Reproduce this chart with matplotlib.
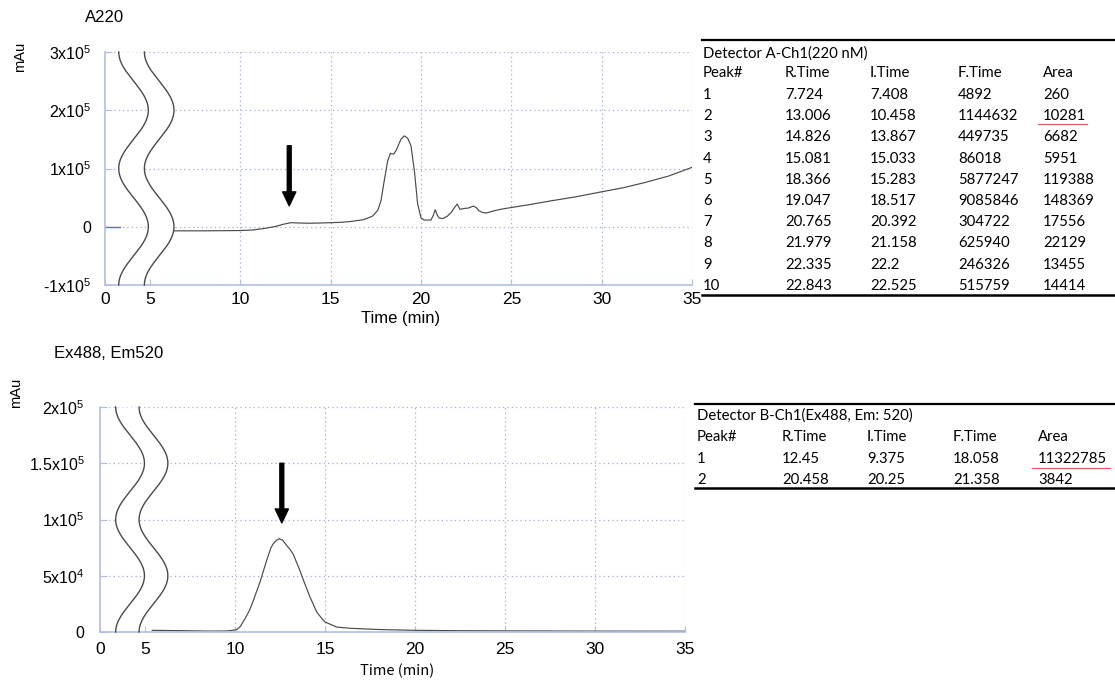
import matplotlib
matplotlib.use('Agg')
import matplotlib.pyplot as plt
import numpy as np
from matplotlib.lines import Line2D

plt.rcParams['font.family'] = ['Liberation Sans', 'DejaVu Sans']
plt.rcParams['mathtext.default'] = 'regular'

W, H = 1115, 682

# ---------------- data ----------------
a220_pre_time = [2.5, 3.35]
a220_pre_mau = [0, 0]
a220_time = [6.3, 8.0, 10.0, 10.65, 11.3, 11.95, 12.4, 12.8, 13.2, 13.8,
             14.5, 15.5, 16.1, 16.8, 17.3, 17.6, 17.78, 17.96, 18.15, 18.3,
             18.48, 18.61, 18.89, 19.07, 19.26, 19.44, 19.63, 19.81, 20.0, 20.18,
             20.55, 20.68, 20.78, 20.9, 21.0, 21.2, 21.45, 21.67, 21.85, 22.0,
             22.15, 22.25, 22.4, 22.6, 22.9, 23.05, 23.2, 23.4, 23.6, 24.05,
             24.5, 25.0, 26.0, 27.2, 28.5, 30.0, 31.2, 32.4, 33.7, 35.0]
a220_mau = [-7000, -7000, -6500, -5700, -3000, 500, 4500, 7000, 6500, 6000,
            6500, 7500, 9000, 12000, 18000, 28000, 44600, 79000, 113000, 126000,
            124800, 130500, 150500, 156000, 152000, 139000, 96000, 39000, 15000, 11500,
            11500, 20000, 29000, 20000, 15000, 14000, 18000, 24500, 33000, 39000,
            30000, 30500, 31500, 32000, 35500, 33000, 27500, 24500, 23500, 27500,
            30500, 33000, 38000, 44500, 51000, 60000, 67000, 76000, 87000, 102000]

fl_time = [5.4, 7.0, 8.5, 9.6, 10.1, 10.3, 10.56, 10.8, 11.02, 11.4,
           11.76, 12.0, 12.13, 12.3, 12.46, 12.65, 12.87, 13.05, 13.24, 13.6,
           13.9, 14.17, 14.54, 14.8, 15.0, 15.65, 16.4, 18.0, 20.0, 22.0,
           25.0, 30.0, 35.0]
fl_mau = [1500, 1200, 800, 900, 2100, 5000, 11900, 19000, 28000, 45000,
          63700, 75000, 78500, 81500, 82900, 81500, 77000, 73500, 69000, 54800,
          42000, 31000, 17800, 12500, 8900, 4400, 3300, 2200, 1500, 1200,
          1000, 800, 700]

x_tick_pos = [2.5, 5, 10, 15, 20, 25, 30, 35]
x_tick_labels = ['0', '5', '10', '15', '20', '25', '30', '35']
a220_yticks = [-1e5, 0, 1e5, 2e5, 3e5]
a220_yticklabels = ['-1x10$^5$', '0', '1x10$^5$', '2x10$^5$', '3x10$^5$']
fl_yticks = [0, 5e4, 1e5, 1.5e5, 2e5]
fl_yticklabels = ['0', '5x10$^4$', '1x10$^5$', '1.5x10$^5$', '2x10$^5$']

arrow_a220 = (12.7, 1.39e5, 0.36e5)   # x, tail y, tip y
arrow_fl = (12.6, 1.5e5, 0.97e5)

table_a_title = 'Detector A-Ch1(220 nM)'
table_cols = ['Peak#', 'R.Time', 'I.Time', 'F.Time', 'Area']
table_a_peak = ['1', '2', '3', '4', '5', '6', '7', '8', '9', '10']
table_a_rtime = ['7.724', '13.006', '14.826', '15.081', '18.366', '19.047', '20.765', '21.979', '22.335', '22.843']
table_a_itime = ['7.408', '10.458', '13.867', '15.033', '15.283', '18.517', '20.392', '21.158', '22.2', '22.525']
table_a_ftime = ['4892', '1144632', '449735', '86018', '5877247', '9085846', '304722', '625940', '246326', '515759']
table_a_area = ['260', '10281', '6682', '5951', '119388', '148369', '17556', '22129', '13455', '14414']

table_b_title = 'Detector B-Ch1(Ex488, Em: 520)'
table_b_peak = ['1', '2']
table_b_rtime = ['12.45', '20.458']
table_b_itime = ['9.375', '20.25']
table_b_ftime = ['18.058', '21.358']
table_b_area = ['11322785', '3842']

# ---------------- figure ----------------
fig = plt.figure(figsize=(W / 100, H / 100), dpi=100)

def px_axes(l, t, r, b):
    return fig.add_axes([l / W, 1 - b / H, (r - l) / W, (b - t) / H])

def fx(x):
    return x / W

def fy(y):
    return 1 - y / H

SPINE = '#b4bde3'
GRID = '#a3acdf'
LINE = '#4a4a4a'

def style_axes(ax, yticks, yticklabels, ylim, xpad, ypad):
    ax.set_xlim(2.5, 35)
    ax.set_ylim(*ylim)
    ax.set_axisbelow(True)
    for s in ['top', 'right']:
        ax.spines[s].set_visible(False)
    for s in ['left', 'bottom']:
        ax.spines[s].set_color(SPINE)
        ax.spines[s].set_linewidth(1.2)
    ax.set_xticks(x_tick_pos)
    ax.set_xticklabels(x_tick_labels, fontsize=12.5)
    ax.set_yticks(yticks)
    ax.set_yticklabels(yticklabels, fontsize=11.5)
    ax.tick_params(axis='x', direction='in', length=4, color=SPINE, pad=xpad)
    ax.tick_params(axis='y', direction='in', length=5, color=SPINE, pad=ypad)
    ax.grid(True, linestyle=(0, (1, 2.5)), color=GRID, linewidth=0.9)
    xg = ax.get_xgridlines()
    xg[0].set_visible(False)
    xg[1].set_visible(False)
    yg = ax.get_ygridlines()
    yg[0].set_visible(False)

def draw_break(ax, ylim, c_left, c_right, amp):
    f = np.linspace(0, 1, 400)
    y = ylim[0] + f * (ylim[1] - ylim[0])
    wav = -np.cos(4 * np.pi * f)
    xl = c_left + amp * wav
    xr = c_right + amp * wav
    ax.fill_betweenx(y, xl, xr, color='white', zorder=1, linewidth=0)
    ax.plot(xl, y, color=LINE, lw=1.0, zorder=3, clip_on=False)
    ax.plot(xr, y, color=LINE, lw=1.0, zorder=3, clip_on=False)

def draw_arrow(ax, spec):
    x, y0, y1 = spec
    ax.annotate('', xy=(x, y1), xytext=(x, y0),
                arrowprops=dict(facecolor='black', edgecolor='black', width=2.8,
                                headwidth=9.5, headlength=10, shrink=0),
                zorder=5)

# ---- top chart ----
ax1 = px_axes(105, 52, 692, 285)
ylim1 = (-1e5, 3e5)
style_axes(ax1, a220_yticks, a220_yticklabels, ylim1, 5, 10)
draw_break(ax1, ylim1, 4.08, 5.5, 0.82)
ax1.plot(a220_pre_time, a220_pre_mau, color='#6a78a8', lw=1.0, zorder=2)
ax1.plot(a220_time, a220_mau, color=LINE, lw=0.85, zorder=2)
draw_arrow(ax1, arrow_a220)
fig.text(fx(401), fy(319), 'Time (min)', ha='center', va='center', fontsize=12)
fig.text(fx(104.5), fy(17), 'A220', ha='center', va='center', fontsize=12)
fig.text(fx(20), fy(57), 'mAu', ha='center', va='center', fontsize=10.5, rotation=90)

# ---- bottom chart ----
ax2 = px_axes(100, 407, 685, 632)
ylim2 = (0, 2e5)
style_axes(ax2, fl_yticks, fl_yticklabels, ylim2, 7, 11)
draw_break(ax2, ylim2, 4.17, 5.47, 0.8)
ax2.plot(fl_time, fl_mau, color=LINE, lw=0.85, zorder=2)
draw_arrow(ax2, arrow_fl)
fig.text(fx(397.5), fy(671), 'Time (min)', ha='center', va='center', fontsize=10.5,
         family=['Noto Sans CJK JP', 'DejaVu Sans'])
fig.text(fx(109), fy(353), 'Ex488, Em520', ha='center', va='center', fontsize=12)
fig.text(fx(16), fy(393), 'mAu', ha='center', va='center', fontsize=10.5, rotation=90)

# ---- tables ----
TFONT = ['Lato', 'DejaVu Sans']
TSIZE = 10.7

def hline(x0, x1, y, lw=1.0, color='black'):
    fig.add_artist(Line2D([fx(x0), fx(x1)], [fy(y), fy(y)], color=color, lw=lw,
                          transform=fig.transFigure))

def draw_table(x0, col_x, title, y_title, y_head, row_ys, cols, y_top, y_bot):
    hline(x0, W, y_top, lw=1.6)
    fig.text(fx(col_x[0]), fy(y_title), title, ha='left', va='center',
             fontsize=TSIZE, family=TFONT)
    for cx, name in zip(col_x, table_cols):
        fig.text(fx(cx), fy(y_head), name, ha='left', va='center',
                 fontsize=TSIZE, family=TFONT)
    for ry, *vals in zip(row_ys, *cols):
        for cx, v in zip(col_x, vals):
            fig.text(fx(cx), fy(ry), v, ha='left', va='center',
                     fontsize=TSIZE, family=TFONT)
    hline(x0, W, y_bot, lw=1.8)

colA = [703, 785, 870, 958, 1043]
rowA = [95 + 21.2 * i for i in range(len(table_a_peak))]
draw_table(702, colA, table_a_title, 54, 73.3, rowA,
           [table_a_peak, table_a_rtime, table_a_itime, table_a_ftime, table_a_area],
           39.5, 295)
hline(1038, 1087, 123.5, lw=0.9, color='#e06060')

colB = [697, 782, 867, 953, 1038]
rowB = [459, 480]
draw_table(695, colB, table_b_title, 416, 437.3, rowB,
           [table_b_peak, table_b_rtime, table_b_itime, table_b_ftime, table_b_area],
           404, 488.3)
hline(1032, 1110, 467.5, lw=0.9, color='#e06060')

fig.savefig('out.png', dpi=100)
